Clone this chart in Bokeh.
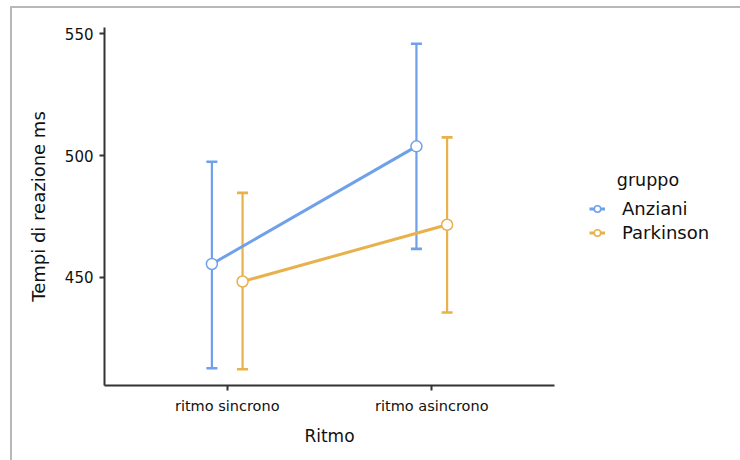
from bokeh.plotting import figure
from bokeh.models import (ColumnDataSource, FactorRange, Range1d, Whisker, TeeHead,
                          Legend, LegendItem, FixedTicker)
from bokeh.transform import dodge
from bokeh.embed import file_html
from bokeh.resources import INLINE

# ---- data ----
ritmo = ["ritmo sincrono", "ritmo asincrono"]
gruppi = ["Anziani", "Parkinson"]
anziani_mean = [455.5, 503.8]
anziani_lower = [412.7, 461.7]
anziani_upper = [497.5, 545.9]
parkinson_mean = [448.3, 471.6]
parkinson_lower = [412.3, 435.6]
parkinson_upper = [484.7, 507.5]
y_ticks = [450, 500, 550]

colors = {"Anziani": "#6fa1ea", "Parkinson": "#e8b14b"}
offsets = {"Anziani": -0.075, "Parkinson": 0.075}
series = {
    "Anziani": (anziani_mean, anziani_lower, anziani_upper),
    "Parkinson": (parkinson_mean, parkinson_lower, parkinson_upper),
}

FONT = "DejaVu Sans"

p = figure(
    x_range=FactorRange(factors=ritmo, range_padding=0.1, range_padding_units="absolute"),
    y_range=Range1d(405.6, 552.6),
    width=728, height=452, frame_width=450, frame_height=358,
    output_backend="svg", toolbar_location=None,
    min_border_left=92, min_border_right=0, min_border_top=19, min_border_bottom=75,
    x_axis_label="Ritmo", y_axis_label="Tempi di reazione ms",
)
p.margin = (6, 0, 0, 10)
p.styles = {"border-top": "2px solid #b8b8b8", "border-left": "2px solid #b8b8b8"}

p.xgrid.visible = False
p.ygrid.visible = False
p.outline_line_color = None
p.background_fill_color = "white"
p.border_fill_color = "white"

items = []
for g in gruppi:
    mean, lower, upper = series[g]
    src = ColumnDataSource(dict(x=ritmo, mean=mean, lower=lower, upper=upper))
    c = colors[g]
    xd = dodge("x", offsets[g], range=p.x_range)
    w = Whisker(base=xd, upper="upper", lower="lower", source=src,
                line_color=c, line_width=2.2, level="underlay",
                upper_head=TeeHead(size=11, line_color=c, line_width=2.6),
                lower_head=TeeHead(size=11, line_color=c, line_width=2.6))
    p.add_layout(w)
    ln = p.line(x=xd, y="mean", source=src, line_color=c, line_width=3)
    sc = p.scatter(x=xd, y="mean", source=src, size=11, marker="circle",
                   fill_color="white", line_color=c, line_width=1.5)
    items.append(LegendItem(label=g, renderers=[ln, sc]))

legend = Legend(items=items, title="\u00a0\u00a0\u00a0\u00a0\u00a0gruppo", location="center_left",
                border_line_color=None, background_fill_alpha=0, margin=35,
                padding=10, spacing=3, glyph_width=16, glyph_height=20,
                label_height=20, label_standoff=17, title_standoff=8,
                label_text_font=FONT, label_text_font_size="18px", label_text_color="#111111",
                title_text_font=FONT, title_text_font_size="17.5px", title_text_color="#111111",
                title_text_font_style="normal")
p.add_layout(legend, "right")

for ax in (p.xaxis[0], p.yaxis[0]):
    ax.axis_line_color = "#333333"
    ax.axis_line_width = 2
    ax.major_tick_line_color = "#333333"
    ax.major_tick_line_width = 2
    ax.major_tick_out = 5
    ax.major_tick_in = 0
    ax.minor_tick_line_color = None
    ax.major_label_text_font = FONT
    ax.major_label_text_color = "#111111"
    ax.axis_label_text_font = FONT
    ax.axis_label_text_font_style = "normal"
    ax.axis_label_text_color = "#111111"

p.xaxis.major_label_text_font_size = "14.5px"
p.yaxis.major_label_text_font_size = "15px"
p.xaxis.axis_label_text_font_size = "17px"
p.yaxis.axis_label_text_font_size = "18px"

p.yaxis.ticker = FixedTicker(ticks=y_ticks)
p.yaxis.major_label_standoff = 6
p.yaxis.axis_label_standoff = 13
p.xaxis.major_label_standoff = 7
p.xaxis.axis_label_standoff = 9

open("out.html", "w").write(file_html(p, INLINE))
